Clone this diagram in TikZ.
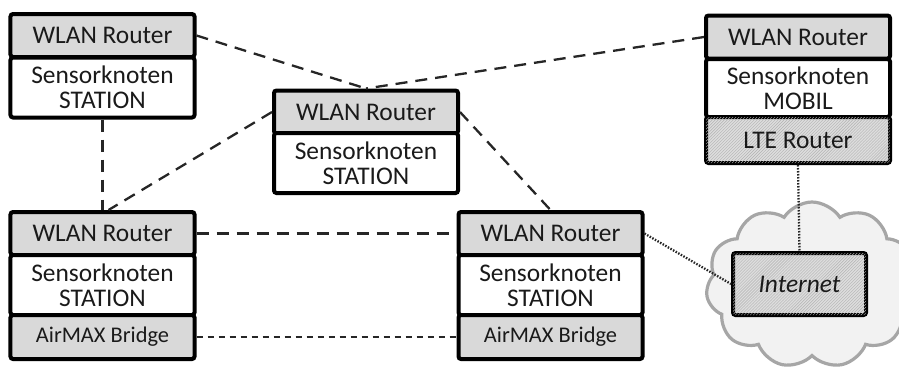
\documentclass[tikz,border=0pt]{standalone}
\usepackage{fontspec}
\setmainfont{Carlito}
\usetikzlibrary{patterns,shapes.symbols}
\definecolor{boxgray}{HTML}{D9D9D9}
\definecolor{txt}{HTML}{1A1A1A}
\definecolor{cloudfill}{HTML}{F2F2F2}
\definecolor{cloudline}{HTML}{A6A6A6}
\tikzset{
  part/.style={draw=black, line width=4bp, rounded corners=2.5bp, minimum width=184bp,
    inner sep=0pt, align=center, text=txt, font=\fontsize{25.5}{25}\selectfont},
  wlan/.style={part, fill=boxgray, minimum height=43bp},
  sensor/.style={part, fill=white, minimum height=60bp},
  bridge/.style={part, fill=boxgray, minimum height=44bp, font=\fontsize{22.5}{24}\selectfont},
  hatched/.style={part, fill=boxgray!90, postaction={pattern=north east lines, pattern color=black!30}},
  longdash/.style={line width=2.3bp, dash pattern=on 12bp off 8bp, black!85},
  shortdash/.style={line width=2.3bp, dash pattern=on 6bp off 5bp, black!85},
  dots/.style={line width=2.3bp, dash pattern=on 1.5bp off 1.5bp, black!85},
}
\begin{document}
\begin{tikzpicture}[x=1bp,y=-1bp]
\useasboundingbox (0,0) rectangle (899,369);
\clip (0,0) rectangle (899,369);
% cloud
\node[cloud, cloud puffs=11, cloud puff arc=115, aspect=1.3, draw=cloudline, fill=cloudfill,
  line width=3.2bp, minimum width=212bp, minimum height=166bp, inner sep=0pt] (cl) at (812,285) {};
% box 1
\node[wlan] (w1) at (102.5,35.5) {WLAN Router};
\node[sensor] (s1) at (102.5,87.5) {Sensorknoten\\STATION};
% box 2
\node[wlan] (w2) at (366,112) {WLAN Router};
\node[sensor] (s2) at (366,163) {Sensorknoten\\STATION};
% box 3
\node[wlan] (w3) at (798,37) {WLAN Router};
\node[sensor, minimum height=58bp] (s3) at (798,88) {Sensorknoten\\MOBIL};
\node[hatched, minimum height=46bp] (l3) at (798,140) {LTE Router};
% box 4
\node[wlan] (w4) at (102.5,233.5) {WLAN Router};
\node[sensor] (s4) at (102.5,285) {Sensorknoten\\STATION};
\node[bridge] (b4) at (102.5,337) {AirMAX Bridge};
% box 5
\node[wlan] (w5) at (550.5,233.5) {WLAN Router};
\node[sensor] (s5) at (550.5,285) {Sensorknoten\\STATION};
\node[bridge] (b5) at (550.5,337) {AirMAX Bridge};
% internet
\node[hatched, minimum width=133bp, minimum height=62bp, font=\fontsize{25.5}{25}\selectfont\itshape] (inet) at (799.5,284) {Internet};
% connectors
\draw[longdash] (w1.east) -- (w2.north);
\draw[longdash] (w3.west) -- (w2.north);
\draw[longdash] (s1.south) -- (w4.north);
\draw[longdash] (w2.west) -- ([xshift=6bp]w4.north);
\draw[longdash] (w2.east) -- (w5.north);
\draw[longdash] (w4.east) -- (w5.west);
\draw[shortdash] (b4.east) -- (b5.west);
\draw[dots] (w5.east) -- (inet.west);
\draw[dots] (l3.south) -- (inet.north);
\end{tikzpicture}
\end{document}
